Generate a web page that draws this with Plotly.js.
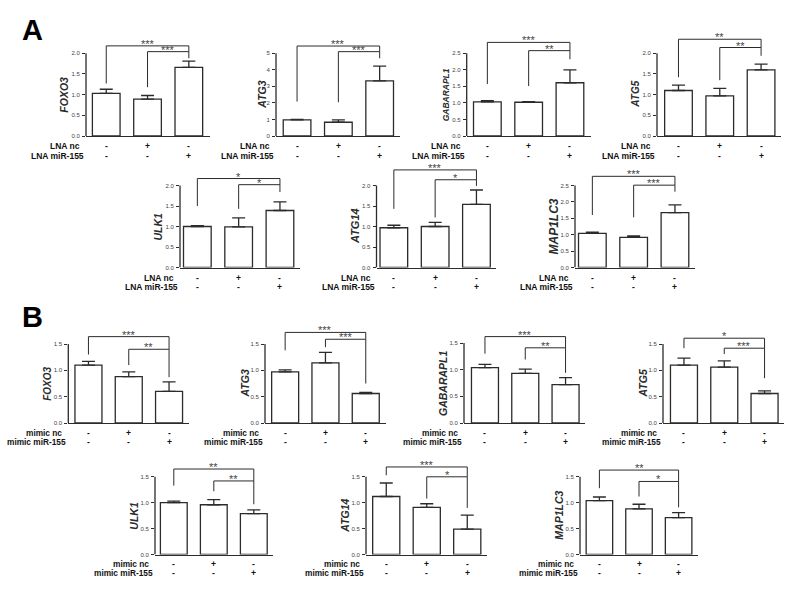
<!DOCTYPE html>
<html><head><meta charset="utf-8">
<script src="https://cdn.plot.ly/plotly-3.0.1.min.js"></script>
<style>body{margin:0;background:#fff}#chart{width:800px;height:592px}</style>
</head><body><div id="chart"></div>
<script>
// ---------- DATA ----------
const genes = ["FOXO3", "ATG3", "GABARAPL1", "ATG5", "ULK1", "ATG14", "MAP1LC3"];
const groupsA = ["LNA nc", "LNA miR-155"];
const groupsB = ["mimic nc", "mimic miR-155"];
const signsRow1 = ["-", "+", "-"];
const signsRow2 = ["-", "-", "+"];

const A_means = [[1.03, 0.89, 1.66], [0.97, 0.83, 3.33], [1.03, 1.02, 1.61], [1.10, 0.97, 1.60],
                 [1.00, 0.99, 1.39], [0.97, 1.00, 1.54], [1.04, 0.92, 1.67]];
const A_errs  = [[0.10, 0.09, 0.15], [0.03, 0.14, 0.90], [0.04, 0.02, 0.39], [0.13, 0.18, 0.14],
                 [0.02, 0.22, 0.21], [0.06, 0.10, 0.35], [0.04, 0.04, 0.24]];
const A_ymax  = [2.0, 5, 2.5, 2.0, 2.0, 2.0, 2.5];
const A_dtick = [0.5, 1, 0.5, 0.5, 0.5, 0.5, 0.5];
const A_stars = [["***", "***"], ["***", "***"], ["***", "**"], ["**", "**"], ["*", "*"], ["***", "*"], ["***", "***"]];
// [outer level, inner level, outer left leg end, inner left leg end, right leg end]
const A_brackets = [[2.18, 2.04, 1.27, 1.18, 1.88], [5.44, 5.10, 2.08, 2.04, 4.70], [2.83, 2.58, 1.57, 1.51, 2.32],
                    [2.34, 2.14, 1.42, 1.35, 1.94], [2.17, 2.02, 1.50, 1.43, 1.84], [2.38, 2.14, 1.43, 1.22, 1.99],
                    [2.78, 2.51, 1.60, 1.53, 2.31]];

const B_means = [[1.10, 0.88, 0.60], [0.97, 1.14, 0.56], [1.04, 0.93, 0.72], [1.10, 1.06, 0.56],
                 [1.00, 0.96, 0.79], [1.12, 0.91, 0.49], [1.04, 0.88, 0.71]];
const B_errs  = [[0.07, 0.09, 0.18], [0.04, 0.20, 0.02], [0.06, 0.08, 0.13], [0.13, 0.12, 0.05],
                 [0.03, 0.10, 0.07], [0.26, 0.07, 0.27], [0.07, 0.09, 0.10]];
const B_ymax  = [1.5, 1.5, 1.5, 1.5, 1.5, 1.5, 1.5];
const B_dtick = [0.5, 0.5, 0.5, 0.5, 0.5, 0.5, 0.5];
const B_stars = [["***", "**"], ["***", "***"], ["***", "**"], ["*", "***"], ["**", "**"], ["***", "*"], ["**", "*"]];
const B_brackets = [[1.64, 1.40, 1.30, 1.10, 0.87], [1.72, 1.59, 1.38, 1.44, 0.75], [1.62, 1.41, 1.30, 1.19, 0.94],
                    [1.61, 1.42, 1.42, 1.31, 0.85], [1.65, 1.42, 1.33, 1.22, 0.97], [1.69, 1.50, 1.53, 1.08, 0.90],
                    [1.63, 1.41, 1.28, 1.12, 0.91]];

// ---------- LAYOUT FRAMES (pixels) ----------
// [left axis x, baseline y, axis-top y, px per category, x range lo, x range hi, title shift, title size]
const framesA = [[86, 136, 53.3, 41.3, -0.49, 2.51, 22, 10.5], [276, 136, 53.3, 41.3, -0.51, 2.49, 14, 10.5],
                 [466.7, 136, 53.3, 41.3, -0.5, 2.5, 21, 8.5], [657, 136, 53.3, 41.3, -0.52, 2.48, 21, 10],
                 [180, 267.5, 185.5, 41.3, -0.42, 2.48, 23, 10.5], [376.5, 267.5, 185.5, 41.3, -0.42, 2.48, 22, 11],
                 [575, 267.5, 185.5, 41.3, -0.42, 2.48, 22, 12]];
const framesB = [[68.3, 423, 344, 40.3, -0.5, 2.5, 21, 10], [265, 423, 344, 40.3, -0.5, 2.5, 21, 10.5],
                 [464, 423, 343, 40.3, -0.52, 2.48, 21, 10.5], [663, 423, 344, 40.3, -0.52, 2.48, 21, 10.5],
                 [155, 554.5, 476.8, 40, -0.47, 2.48, 21, 10.5], [366, 554.5, 476.8, 40.5, -0.5, 2.48, 21, 10.5],
                 [580, 554.5, 476.8, 39.6, -0.49, 2.48, 21, 10.5]];

const W = 800, H = 592, HEAD = 24;
const INK = "#2b2b2b";
const FONT = "Liberation Sans, Arial, sans-serif";

const data = [];
const layout = {
  width: W, height: H, margin: {l: 0, r: 0, t: 0, b: 0},
  paper_bgcolor: "#fff", plot_bgcolor: "rgba(0,0,0,0)",
  showlegend: false, shapes: [], annotations: [],
  font: {family: FONT, color: INK}
};

let n = 0;
function panel(gene, means, errs, ymax, dtick, stars, br, fr, groups, labSize, rowsY) {
  n += 1;
  const xs = n === 1 ? "x" : "x" + n, ys = n === 1 ? "y" : "y" + n;
  const xk = n === 1 ? "xaxis" : "xaxis" + n, yk = n === 1 ? "yaxis" : "yaxis" + n;
  const [L, y0, yt, pitch, r0, r1, tshift, tsize] = fr;
  const cats = [0, 1, 2];
  const wpx = pitch * (r1 - r0);
  const axH = y0 - yt;
  const ytop = ymax * (axH + HEAD) / axH;

  layout[xk] = {domain: [L / W, (L + wpx) / W], range: [r0, r1], anchor: ys,
    showline: true, linecolor: INK, linewidth: 1.3, ticks: "", showticklabels: false,
    showgrid: false, zeroline: false, fixedrange: true};
  const tv = [], tt = [];
  for (let v = 0; v <= ymax + 1e-9; v += dtick) {
    tv.push(v); tt.push(dtick >= 1 ? String(Math.round(v)) : v.toFixed(1));
  }
  layout[yk] = {domain: [(H - y0) / H, (H - (yt - HEAD)) / H], range: [0, ytop], anchor: xs,
    showline: false, showgrid: false, zeroline: false, ticks: "outside", ticklen: 3, tickwidth: 1,
    tickcolor: INK, tickvals: tv, ticktext: tt, tickfont: {size: 6, color: "#444", family: FONT},
    ticklabelstandoff: 1, fixedrange: true};

  // y axis line only up to the top tick
  layout.shapes.push({type: "line", xref: xs + " domain", yref: ys, x0: 0, x1: 0, y0: 0, y1: ymax,
    line: {color: INK, width: 1.3}});

  data.push({type: "bar", x: cats, y: means, width: 0.67, xaxis: xs, yaxis: ys,
    marker: {color: "#fff", line: {color: INK, width: 1.3}},
    error_y: {type: "data", symmetric: false, array: errs, arrayminus: [0, 0, 0],
      color: INK, thickness: 1.3, width: 6.5},
    hoverinfo: "skip"});

  const [lo, li, llo, lli, rr] = br;
  data.push({type: "scatter", mode: "lines", x: [0, 0, 2, 2], y: [llo, lo, lo, li], xaxis: xs, yaxis: ys,
    line: {color: INK, width: 1}, hoverinfo: "skip", cliponaxis: false});
  data.push({type: "scatter", mode: "lines", x: [1, 1, 2, 2], y: [lli, li, li, rr], xaxis: xs, yaxis: ys,
    line: {color: INK, width: 1}, hoverinfo: "skip", cliponaxis: false});

  layout.annotations.push({xref: xs, yref: ys, x: 1, y: lo, text: stars[0], showarrow: false,
    yanchor: "bottom", yshift: -5, borderpad: 0, font: {size: 11, color: "#444"}});
  layout.annotations.push({xref: xs, yref: ys, x: 1.5, y: li, text: stars[1], showarrow: false,
    yanchor: "bottom", yshift: -5, borderpad: 0, font: {size: 11, color: "#444"}});

  // gene title
  layout.annotations.push({xref: xs + " domain", yref: ys, x: 0, y: ymax / 2, xshift: -tshift,
    text: gene, textangle: -90, showarrow: false, xanchor: "center", yanchor: "middle", borderpad: 0,
    font: {size: tsize, weight: "bold", style: "italic", color: INK, family: FONT}});

  // sign rows and group labels
  [signsRow1, signsRow2].forEach((row, r) => {
    row.forEach((s, i) => {
      layout.annotations.push({xref: xs, yref: ys, x: cats[i], y: 0, yshift: rowsY[r], text: s,
        showarrow: false, yanchor: "middle", borderpad: 0, font: {size: 8.5, weight: "bold", color: "#111"}});
    });
    layout.annotations.push({xref: xs + " domain", yref: ys, x: 0, y: 0, yshift: rowsY[r],
      xshift: r === 0 ? -5 : -1, xanchor: "right", yanchor: "middle", text: groups[r], showarrow: false,
      borderpad: 0, font: {size: labSize, weight: "bold", color: "#111"}});
  });
}

genes.forEach((g, i) => panel(g, A_means[i], A_errs[i], A_ymax[i], A_dtick[i], A_stars[i], A_brackets[i], framesA[i], groupsA, 8.5, [-10, -19.6]));
genes.forEach((g, i) => panel(g, B_means[i], B_errs[i], B_ymax[i], B_dtick[i], B_stars[i], B_brackets[i], framesB[i], groupsB, 8.3, [-9.5, -18.8]));

layout.annotations.push({xref: "paper", yref: "paper", x: 20 / W, y: 1 - 30 / H, text: "A", showarrow: false,
  xanchor: "left", yanchor: "middle", font: {size: 29, weight: "bold", color: "#000"}});
layout.annotations.push({xref: "paper", yref: "paper", x: 20 / W, y: 1 - 317 / H, text: "B", showarrow: false,
  xanchor: "left", yanchor: "middle", font: {size: 29, weight: "bold", color: "#000"}});

Plotly.newPlot("chart", data, layout, {displayModeBar: false, staticPlot: true});
</script></body></html>
